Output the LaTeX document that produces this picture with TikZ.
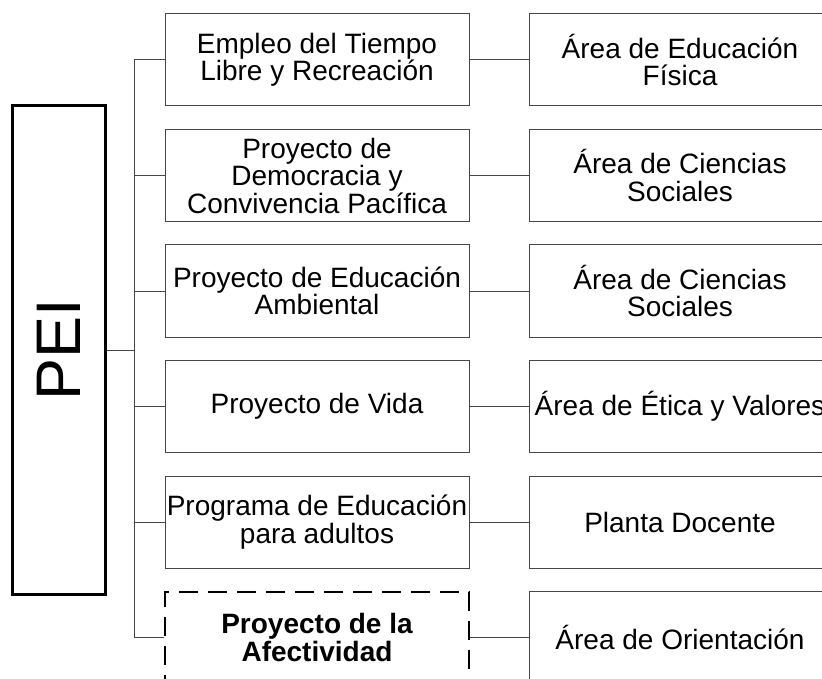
\documentclass[tikz,border=0pt]{standalone}
\usepackage{fontspec}
\setmainfont{Liberation Sans}
\definecolor{linegray}{RGB}{70,70,70}
\begin{document}
\begin{tikzpicture}[x=1pt,y=-1pt,
  mid/.style={draw=linegray,line width=1pt,minimum width=304pt,minimum height=92pt,inner sep=0pt,align=center,font=\fontsize{28}{27.5}\selectfont},
  rgt/.style={mid,minimum width=302pt},
  dbox/.style={mid,draw=black,line width=2pt,dash pattern=on 19pt off 10pt,font=\fontsize{28}{27.5}\selectfont\bfseries},
  conn/.style={draw=linegray,line width=1pt},
  peibox/.style={draw=black,line width=3pt,minimum width=93pt,minimum height=488pt,inner sep=0pt}]
\useasboundingbox (0,0) rectangle (822,679);
\clip (0,0) rectangle (822,679);
\node[peibox] (pei) at (58.5,350) {};
\node[rotate=90,font=\fontsize{63}{63}\selectfont] (peit) at (pei.center) {PEI};
\coordinate (top) at (134,60);
\coordinate (bot) at (134,637.5);
\node[mid] (m1) at (317,60) {Empleo del Tiempo\\Libre y Recreación};
\node[mid] (m2) at (317,175.5) {Proyecto de\\Democracia y\\Convivencia Pacífica};
\node[mid] (m3) at (317,291) {Proyecto de Educación\\Ambiental};
\node[mid] (m4) at (317,406.5) {Proyecto de Vida};
\node[mid] (m5) at (317,522) {Programa de Educación\\para adultos};
\node[dbox] (m6) at (317,637.5) {Proyecto de la\\Afectividad};
\node[rgt] (r1) at (680,60) {Área de Educación\\Física};
\node[rgt] (r2) at (680,175.5) {Área de Ciencias\\Sociales};
\node[rgt] (r3) at (680,291) {Área de Ciencias\\Sociales};
\node[rgt] (r4) at (680,406.5) {Área de Ética y Valores};
\node[rgt] (r5) at (680,522) {Planta Docente};
\node[rgt] (r6) at (680,637.5) {Área de Orientación};
\draw[conn] (pei.east) -- (pei.east -| top);
\draw[conn] (top) -- (bot);
\foreach \i in {1,...,6}{
  \draw[conn] (m\i.west -| top) -- (m\i.west);
  \draw[conn] (m\i.east) -- (r\i.west);
}
\end{tikzpicture}
\end{document}
